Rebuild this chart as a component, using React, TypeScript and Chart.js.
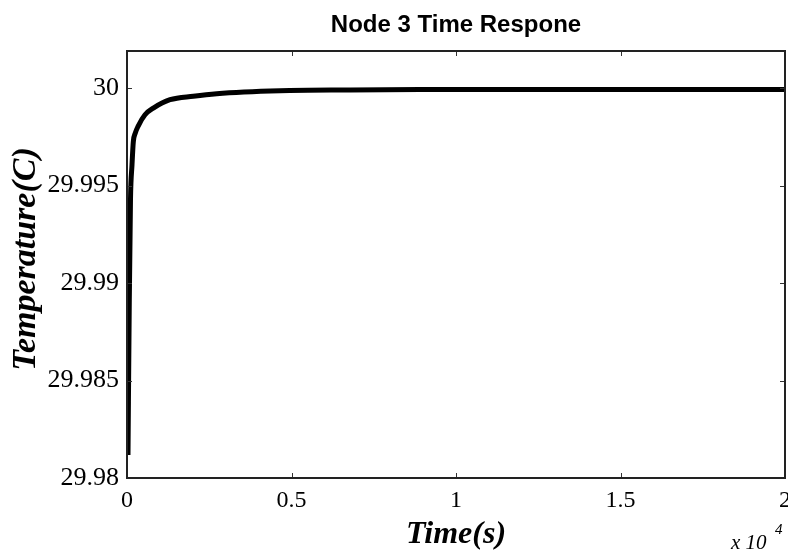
import React, { useEffect, useRef } from "react";
import { Chart, registerables } from "chart.js";

Chart.register(...registerables);

const titleText = "Node 3 Time Respone";
const xTitle = "Time(s)";
const yTitle = "Temperature(C)";
const xExponent = "x 10";
const xExponentPower = "4";

const timeValues = [30, 70, 106, 152, 192, 250, 340, 547, 800, 1307, 2016, 2727, 4651, 6779, 8907, 11339, 20000];
const tempValues = [29.98118, 29.98914, 29.99427, 29.99606, 29.99725, 29.99768, 29.99805, 29.99863, 29.99897, 29.9994, 29.99958, 29.99971, 29.99986, 29.9999, 29.99992, 29.99993, 29.99993];

const xTickValues = [0, 5000, 10000, 15000, 20000];
const xTickLabels = ["0", "0.5", "1", "1.5", "2"];
const yTickValues = [29.98, 29.985, 29.99, 29.995, 30];
const yTickLabels = ["29.98", "29.985", "29.99", "29.995", "30"];

const decorPlugin = {
  id: "decor",
  afterDraw(chart: any) {
    const { ctx, chartArea } = chart;
    const { left, right, top, bottom } = chartArea;
    const xs = chart.scales.x;
    const ys = chart.scales.y;
    ctx.save();
    ctx.strokeStyle = "#333";
    ctx.lineWidth = 1;
    const tl = 5;
    ctx.beginPath();
    xTickValues.forEach((v) => {
      const px = Math.round(xs.getPixelForValue(v)) + 0.5;
      ctx.moveTo(px, bottom);
      ctx.lineTo(px, bottom - tl);
      ctx.moveTo(px, top);
      ctx.lineTo(px, top + tl);
    });
    yTickValues.forEach((v) => {
      const py = Math.round(ys.getPixelForValue(v)) + 0.5;
      ctx.moveTo(left, py);
      ctx.lineTo(left + tl, py);
      ctx.moveTo(right, py);
      ctx.lineTo(right - tl, py);
    });
    ctx.stroke();
    ctx.lineWidth = 2;
    ctx.strokeStyle = "#222";
    ctx.strokeRect(left, top, right - left, bottom - top);

    ctx.fillStyle = "#000";
    ctx.textAlign = "center";
    ctx.textBaseline = "middle";
    ctx.font = "bold 24px 'Liberation Sans', Arial, sans-serif";
    ctx.fillText(titleText, 456, 25);

    ctx.font = "italic bold 32px 'Liberation Serif', serif";
    ctx.fillText(xTitle, 456, 535);

    ctx.save();
    ctx.translate(26, 259);
    ctx.rotate(-Math.PI / 2);
    ctx.font = "italic bold 34px 'Liberation Serif', serif";
    ctx.fillText(yTitle, 0, 0);
    ctx.restore();

    ctx.textAlign = "left";
    ctx.textBaseline = "alphabetic";
    ctx.font = "italic 21px 'Liberation Serif', serif";
    ctx.fillText(xExponent, 731, 549);
    ctx.font = "italic 15px 'Liberation Serif', serif";
    ctx.fillText(xExponentPower, 775, 534);
    ctx.restore();
  },
};

export default function App() {
  const ref = useRef<HTMLCanvasElement>(null);
  useEffect(() => {
    if (!ref.current) return;
    const chart = new Chart(ref.current, {
      type: "line",
      data: {
        datasets: [
          {
            data: timeValues.map((t, i) => ({ x: t, y: tempValues[i] })),
            borderColor: "#000",
            borderWidth: 5,
            pointRadius: 0,
            cubicInterpolationMode: "monotone",
            fill: false,
          },
        ],
      },
      options: {
        responsive: false,
        animation: false,
        events: [],
        layout: { padding: { top: 51, right: 3, left: 0, bottom: 0 } },
        plugins: { legend: { display: false }, tooltip: { enabled: false }, title: { display: false } },
        scales: {
          x: {
            type: "linear",
            min: 0,
            max: 20000,
            grid: { display: false, drawTicks: false },
            border: { display: false },
            afterBuildTicks: (s: any) => {
              s.ticks = xTickValues.map((v) => ({ value: v }));
            },
            afterFit: (s: any) => {
              s.height = 76;
              s.paddingLeft = 0;
              s.paddingRight = 0;
            },
            ticks: {
              maxRotation: 0,
              autoSkip: false,
              padding: 8,
              color: "#000",
              font: { family: "'Liberation Serif', serif", size: 24 },
              callback: (v: any) => {
                const i = xTickValues.indexOf(Number(v));
                return i >= 0 ? xTickLabels[i] : "";
              },
            },
          },
          y: {
            type: "linear",
            min: 29.98,
            max: 30.0019,
            grid: { display: false, drawTicks: false },
            border: { display: false },
            afterBuildTicks: (s: any) => {
              s.ticks = yTickValues.map((v) => ({ value: v }));
            },
            afterFit: (s: any) => {
              s.width = 127;
              s.paddingTop = 0;
              s.paddingBottom = 0;
            },
            ticks: {
              autoSkip: false,
              padding: 8,
              color: "#000",
              font: { family: "'Liberation Serif', serif", size: 26 },
              callback: (v: any) => {
                const i = yTickValues.findIndex((t) => Math.abs(t - Number(v)) < 1e-7);
                return i >= 0 ? yTickLabels[i] : "";
              },
            },
          },
        },
      },
      plugins: [decorPlugin],
    } as any);
    return () => chart.destroy();
  }, []);
  return (
    <div style={{ position: "absolute", left: 0, top: 0, width: 788, height: 554, background: "#fff" }}>
      <canvas ref={ref} width={788} height={554} />
    </div>
  );
}
